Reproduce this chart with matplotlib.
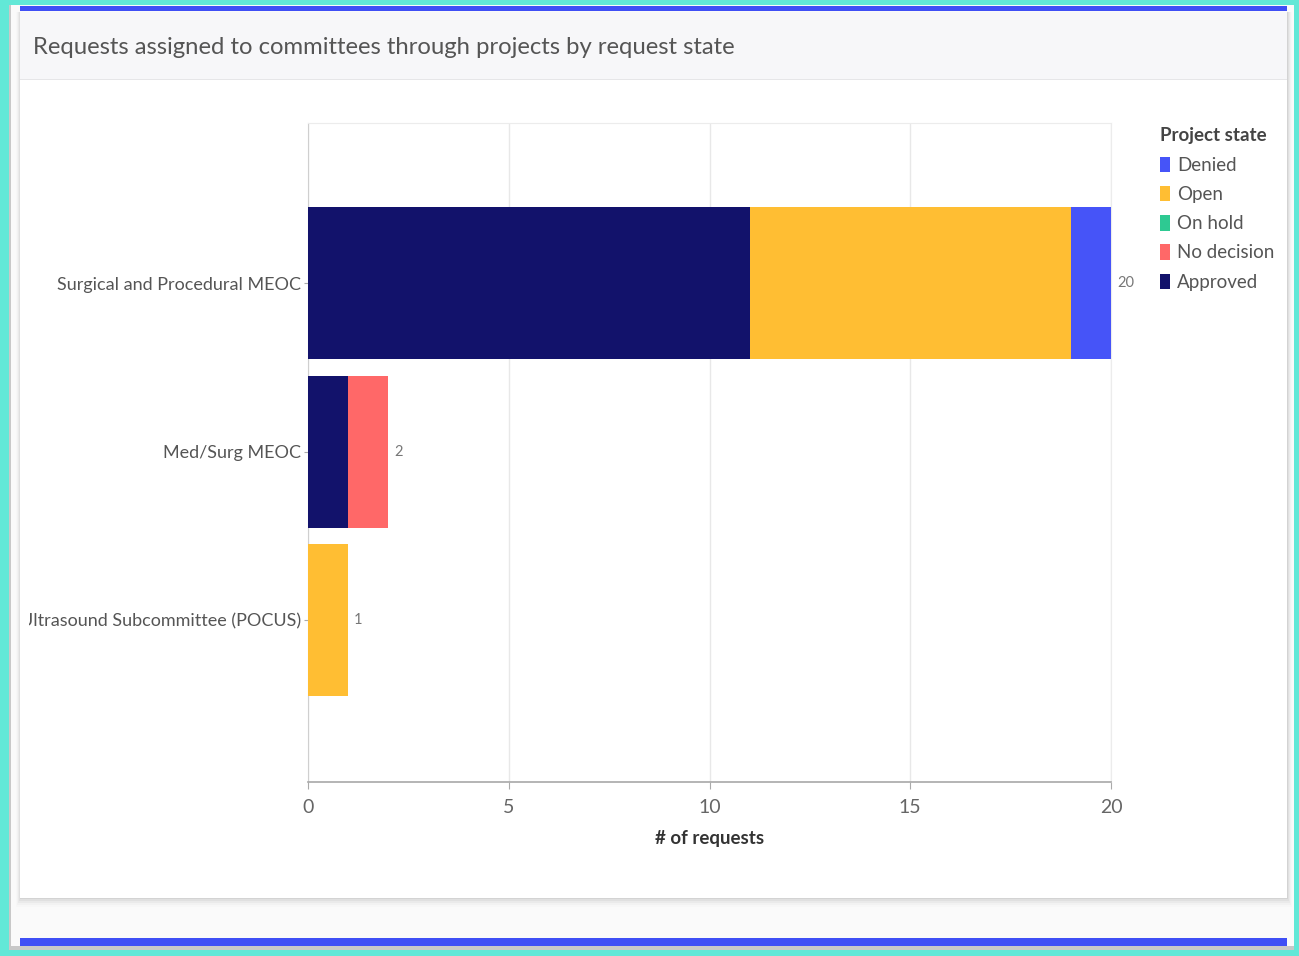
import matplotlib
matplotlib.use("Agg")
import matplotlib.pyplot as plt
from matplotlib.patches import Rectangle, Patch
from matplotlib.transforms import Bbox
import numpy as np

# ---------------- data ----------------
committees = ["Surgical and Procedural MEOC", "Med/Surg MEOC", "Ultrasound Subcommittee (POCUS)"]
states = ["Approved", "No decision", "On hold", "Open", "Denied"]
approved = [11, 1, 0]
no_decision = [0, 1, 0]
on_hold = [0, 0, 0]
open_ = [8, 0, 1]
denied = [1, 0, 0]
state_colors = {
    "Denied": "#4654f8",
    "Open": "#ffbe33",
    "On hold": "#2ec992",
    "No decision": "#ff6868",
    "Approved": "#12126b",
}
legend_order = ["Denied", "Open", "On hold", "No decision", "Approved"]
x_ticks = [0, 5, 10, 15, 20]
title = "Requests assigned to committees through projects by request state"
x_label = "# of requests"
legend_title = "Project state"

plt.rcParams["font.family"] = ["Lato", "DejaVu Sans"]

W, H = 1299, 956
fig = plt.figure(figsize=(W / 100, H / 100), dpi=100)
fig.patch.set_facecolor("#fafafa")


def fx(px):
    return px / W


def fy(py):
    return 1 - py / H


def frect(x0, y0, x1, y1, **kw):
    r = Rectangle((fx(x0), fy(y1)), fx(x1) - fx(x0), fy(y0) - fy(y1),
                  transform=fig.transFigure, **kw)
    fig.add_artist(r)
    return r


# outer cyan frame
frect(0, 0, W, 5, color="#62e8d7", zorder=0, lw=0)
frect(0, 0, 9, H, color="#62e8d7", zorder=0, lw=0)
frect(1294, 0, W, H, color="#62e8d7", zorder=0, lw=0)
frect(0, 950, W, H, color="#62e8d7", zorder=0, lw=0)
frect(9, 5, 11, 950, color="#c8c8c8", zorder=0, lw=0)
frect(11, 946, 1294, 950, color="#c8c8c8", zorder=0, lw=0)

# top and bottom blue bars
frect(20, 6, 1287, 11, color="#3f4ff5", zorder=1, lw=0)
frect(20, 938, 1287, 946, color="#3f4ff5", zorder=1, lw=0)

# card shadow
for i, a in enumerate([0.05, 0.04, 0.03, 0.02, 0.01]):
    frect(20 - i, 12, 1287 + 1 + i, 898 + 1 + i * 2, color="black", alpha=a, zorder=1, lw=0)
# card
frect(20, 12, 1287, 898, color="white", zorder=1, lw=0)
frect(20, 12, 1287, 79, color="#f7f7f9", zorder=1, lw=0)
frect(20, 79, 1287, 80, color="#e6e6e8", zorder=1, lw=0)

fig.text(fx(33), fy(48), title, fontsize=17.2, color="#555555",
         ha="left", va="center", zorder=3)

# ---------------- axes ----------------
ax = fig.add_axes([fx(308), fy(782), fx(1111) - fx(308), fy(123) - fy(782)])
ax.set_zorder(2)
ax.set_facecolor("white")

y = np.arange(len(committees))
series = {"Approved": approved, "No decision": no_decision, "On hold": on_hold,
          "Open": open_, "Denied": denied}
left = np.zeros(len(committees))
for s in states:
    vals = np.array(series[s], dtype=float)
    ax.barh(y, vals, left=left, height=0.9, color=state_colors[s], zorder=3, lw=0)
    left += vals

for yi, tot in zip(y, left):
    ax.text(tot + 0.15, yi, f"{int(tot)}", ha="left", va="center",
            fontsize=10.5, color="#777777", zorder=4)

ax.set_xlim(0, 20)
ax.set_ylim(2.96, -0.95)
ax.set_xticks(x_ticks)
ax.set_yticks(y)
ax.set_yticklabels(committees)
ax.grid(axis="x", color="#e8e8e8", lw=1, zorder=0)
ax.set_axisbelow(True)

for sp in ["top", "right"]:
    ax.spines[sp].set_color("#ececec")
ax.spines["left"].set_color("#cfcfcf")
ax.spines["bottom"].set_color("#a8a8a8")
ax.spines["bottom"].set_linewidth(1.2)

ax.tick_params(axis="y", length=3, color="#aaaaaa", labelsize=13, labelcolor="#555555", pad=2)
ax.tick_params(axis="x", length=5, color="#aaaaaa", labelsize=14, labelcolor="#666666", pad=7)
ax.set_xlabel(x_label, fontsize=13.5, color="#333333", fontweight="bold", labelpad=10)

# clip the long y tick label at the chart area's left edge (as in the reference)
clip = Bbox.from_extents(29, 0, 1287, H)
for lab in ax.get_yticklabels():
    lab.set_clip_on(True)
    lab.set_clip_box(clip)

# legend
handles = [Patch(facecolor=state_colors[s], edgecolor="none", label=s) for s in legend_order]
leg = fig.legend(handles=handles, loc="upper left",
                 bbox_to_anchor=(fx(1152), fy(120)), frameon=False,
                 title=legend_title, fontsize=13.5, title_fontsize=13.5,
                 handlelength=0.55, handleheight=0.9, handletextpad=0.4,
                 labelspacing=0.64, borderaxespad=0, alignment="left")
leg.get_title().set_fontweight("bold")
leg.get_title().set_color("#444444")
for t in leg.get_texts():
    t.set_color("#555555")
leg.set_zorder(5)

fig.savefig("out.png", dpi=100, facecolor=fig.get_facecolor())
